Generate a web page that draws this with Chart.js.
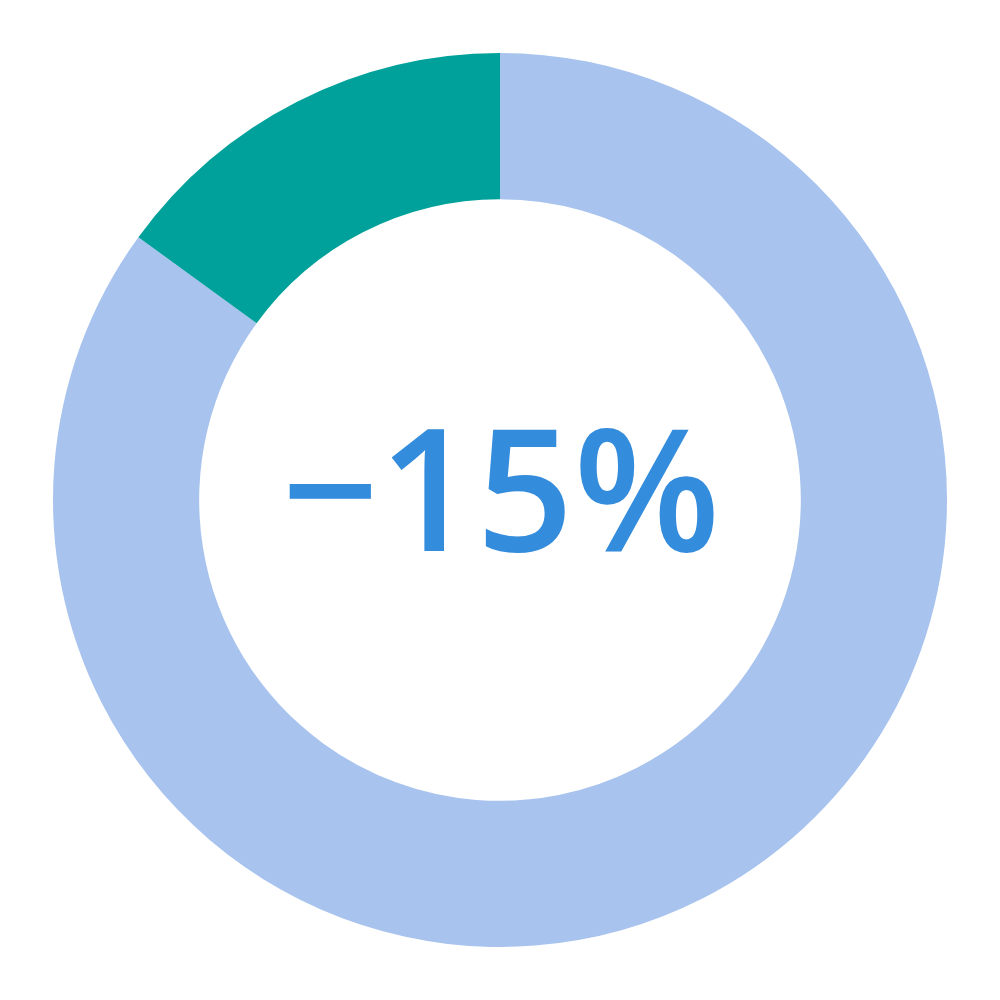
<!DOCTYPE html>
<html>
<head>
<meta charset="utf-8">
<script src="https://cdn.jsdelivr.net/npm/chart.js@4"></script>
<style>
html,body{margin:0;padding:0;background:#fff;}
#wrap{width:1000px;height:1000px;position:relative;}
</style>
</head>
<body>
<div id="wrap"><canvas id="c"></canvas></div>
<script>
const categories = ["Remaining", "Decrease"];
const values = [85, 15];
const colors = ["#A7C3EE", "#00A19A"];
const centerLabel = "\u221215%";

const centerText = {
  id: "centerText",
  afterDraw(chart) {
    const ctx = chart.ctx;
    const meta = chart.getDatasetMeta(0).data[0];
    ctx.save();
    ctx.fillStyle = "#348CDD";
    ctx.font = "600 170px 'Open Sans'";
    ctx.textAlign = "center";
    ctx.textBaseline = "alphabetic";
    ctx.fillText(centerLabel, meta.x + 1, meta.y + 51);
    ctx.restore();
  }
};

new Chart(document.getElementById("c"), {
  type: "doughnut",
  data: {
    labels: categories,
    datasets: [{ data: values, backgroundColor: colors, borderWidth: 0 }]
  },
  options: {
    responsive: true,
    maintainAspectRatio: false,
    animation: false,
    cutout: "67.3%",
    layout: { padding: 53 },
    plugins: { legend: { display: false }, tooltip: { enabled: false } }
  },
  plugins: [centerText]
});
</script>
</body>
</html>
